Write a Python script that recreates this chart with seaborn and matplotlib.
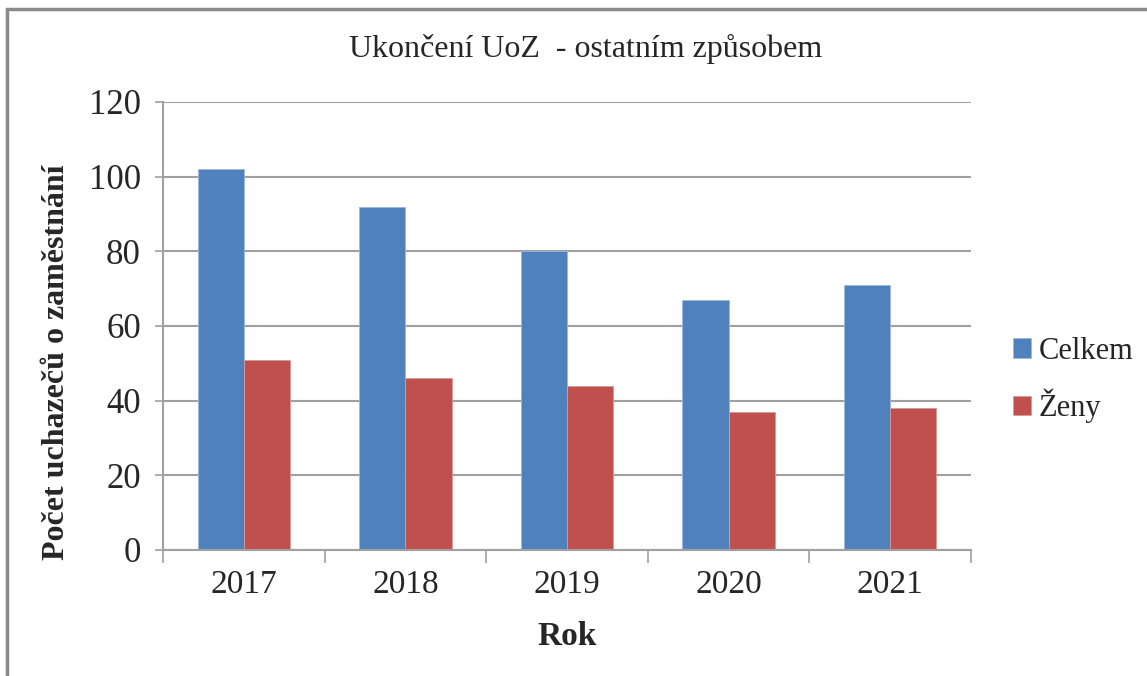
import matplotlib
matplotlib.use("Agg")
import matplotlib.pyplot as plt
import seaborn as sns
import pandas as pd
from matplotlib.patches import Rectangle

years = ["2017", "2018", "2019", "2020", "2021"]
celkem = [102, 92, 80, 67, 71]
zeny = [51, 46, 44, 37, 38]
series_names = ["Celkem", "Ženy"]
colors = ["#4F81BD", "#C0504D"]
yticks = [0, 20, 40, 60, 80, 100, 120]

df = pd.DataFrame({
    "Rok": years * 2,
    "Hodnota": celkem + zeny,
    "Serie": [series_names[0]] * len(years) + [series_names[1]] * len(years),
})

sns.set_theme(style="white")
plt.rcParams["font.family"] = ["Liberation Serif", "DejaVu Serif"]

fig = plt.figure(figsize=(11.47, 6.76), dpi=100)
ax = fig.add_axes([163/1147, 1-550/676, (971-163)/1147, (550-102)/676])

sns.barplot(data=df, x="Rok", y="Hodnota", hue="Serie", palette=colors,
            width=0.571, gap=0, ax=ax, edgecolor="#9db8dc", linewidth=0.6,
            saturation=1, legend=True)
for patch in ax.patches:
    fc = patch.get_facecolor()
    if fc[0] > 0.6:
        patch.set_edgecolor("#d89a98")

ax.set_ylim(0, 120)
ax.set_xlim(-0.5, 4.5)
ax.set_yticks(yticks)
ax.set_yticklabels([str(t) for t in yticks], fontsize=25)
ax.tick_params(axis="y", which="major", left=True, length=6, width=1.2, color="#a0a0a0", pad=10)
ax.tick_params(axis="x", which="major", bottom=False, labelsize=24, pad=8)
ax.set_xticks([i - 0.5 for i in range(len(years) + 1)], minor=True)
ax.tick_params(axis="x", which="minor", bottom=True, length=9, width=1.2, color="#a0a0a0")
ax.yaxis.grid(True, color="#a0a0a0", linewidth=1.5)
ax.set_axisbelow(True)
for s in ["top", "right"]:
    ax.spines[s].set_visible(False)
for s in ["left", "bottom"]:
    ax.spines[s].set_color("#a0a0a0")
    ax.spines[s].set_linewidth(1.5)

ax.set_xlabel("Rok", fontsize=24, fontweight="bold", labelpad=15)
ax.set_ylabel("")
fig.text(57/1147, 1-362/676, "Počet uchazečů o zaměstnání", rotation=90, ha="center", va="center",
         fontsize=23, fontweight="bold")
fig.text(586/1147, 1-49/676, "Ukončení UoZ  - ostatním způsobem", ha="center", va="center",
         fontsize=23)

handles, labels = ax.get_legend_handles_labels()
ax.legend(handles, labels, loc="center left", bbox_to_anchor=(1013/1147, 1-380/676),
          bbox_transform=fig.transFigure, frameon=False, fontsize=22,
          handlelength=0.6, handleheight=0.6, handletextpad=0.25, labelspacing=0.75,
          borderpad=0, borderaxespad=0)

fig.patches.append(Rectangle((7/1147, -0.05), 1.2, 1-9/676+0.05, transform=fig.transFigure,
                             fill=False, edgecolor="#8a8a8a", linewidth=2.5, figure=fig))

fig.savefig("out.png", dpi=100, facecolor="white")
